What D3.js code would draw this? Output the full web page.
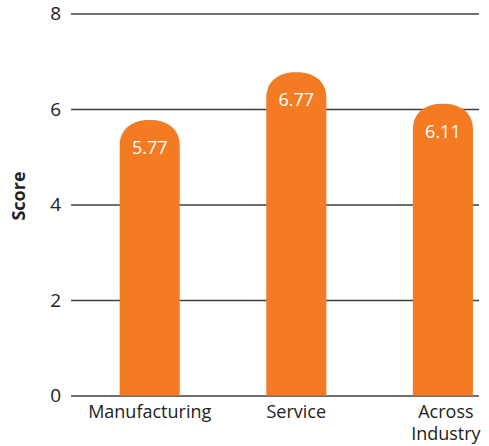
<!DOCTYPE html>
<html>
<head>
<meta charset="utf-8">
<script src="https://cdn.jsdelivr.net/npm/d3@7"></script>
<style>
  html, body { margin: 0; padding: 0; background: #fff; }
  svg { display: block; }
  text { font-family: "Open Sans", "Noto Sans", sans-serif; }
</style>
</head>
<body>
<svg id="chart" width="489" height="446"></svg>
<script>
// Scores by sector
const categories = ["Manufacturing", "Service", "Across Industry"];
const scores = [5.77, 6.77, 6.11];
const yTicks = [0, 2, 4, 6, 8];

const svg = d3.select("#chart");

const gridLeft = 71, gridRight = 479;
const y = d3.scaleLinear().domain([0, 8]).range([395.5, 13.5]);
const x = d3.scaleBand()
  .domain(categories)
  .range([76.4, 516.2])
  .paddingInner(0.59)
  .paddingOuter(0.295);

const orange = "#F47B22";
const gridColor = "#3f3f3f";

// horizontal gridlines
const yAxis = d3.axisLeft(y)
  .tickValues(yTicks)
  .tickFormat(d3.format("d"))
  .tickSize(-(gridRight - gridLeft))
  .tickPadding(10);

const gAxis = svg.append("g")
  .attr("transform", `translate(${gridLeft},0)`)
  .call(yAxis);
gAxis.select(".domain").remove();
gAxis.selectAll(".tick line")
  .attr("stroke", gridColor)
  .attr("stroke-width", 1.4);
gAxis.selectAll(".tick text")
  .attr("fill", "#222")
  .attr("font-size", 19)
  .attr("font-family", "'Open Sans', sans-serif");

// bars with a rounded cap
function barPath(x0, w, top, bottom) {
  const rx = w / 2;
  const ry = Math.min(26, bottom - top);
  return `M${x0},${bottom}` +
    `L${x0},${top + ry}` +
    `C${x0},${top + ry * 0.3} ${x0 + rx * 0.45},${top} ${x0 + rx},${top}` +
    `C${x0 + w - rx * 0.45},${top} ${x0 + w},${top + ry * 0.3} ${x0 + w},${top + ry}` +
    `L${x0 + w},${bottom}Z`;
}

const data = categories.map((c, i) => ({ cat: c, v: scores[i] }));

svg.append("g").selectAll("path")
  .data(data)
  .join("path")
  .attr("d", d => barPath(x(d.cat), x.bandwidth(), y(d.v), y(0)))
  .attr("fill", orange);

// value labels inside bar tops
svg.append("g").selectAll("text")
  .data(data)
  .join("text")
  .attr("x", d => x(d.cat) + x.bandwidth() / 2)
  .attr("y", d => y(d.v) + 34)
  .attr("text-anchor", "middle")
  .attr("fill", "#fff")
  .attr("font-size", 18)
  .text(d => d.v.toFixed(2));

// category labels (the last one wraps onto two lines)
const catG = svg.append("g");
data.forEach(d => {
  const words = d.cat === "Across Industry" ? ["Across", "Industry"] : [d.cat];
  const cx = x(d.cat) + x.bandwidth() / 2 + (words.length > 1 ? 3 : 0);
  words.forEach((w, i) => {
    catG.append("text")
      .attr("x", cx)
      .attr("y", 418 + i * 22)
      .attr("text-anchor", "middle")
      .attr("fill", "#222")
      .attr("font-size", 18)
      .text(w);
  });
});

// y-axis title
svg.append("text")
  .attr("transform", `translate(25,196) rotate(-90)`)
  .attr("text-anchor", "middle")
  .attr("fill", "#222")
  .attr("font-size", 18)
  .attr("font-weight", "bold")
  .text("Score");
</script>
</body>
</html>
